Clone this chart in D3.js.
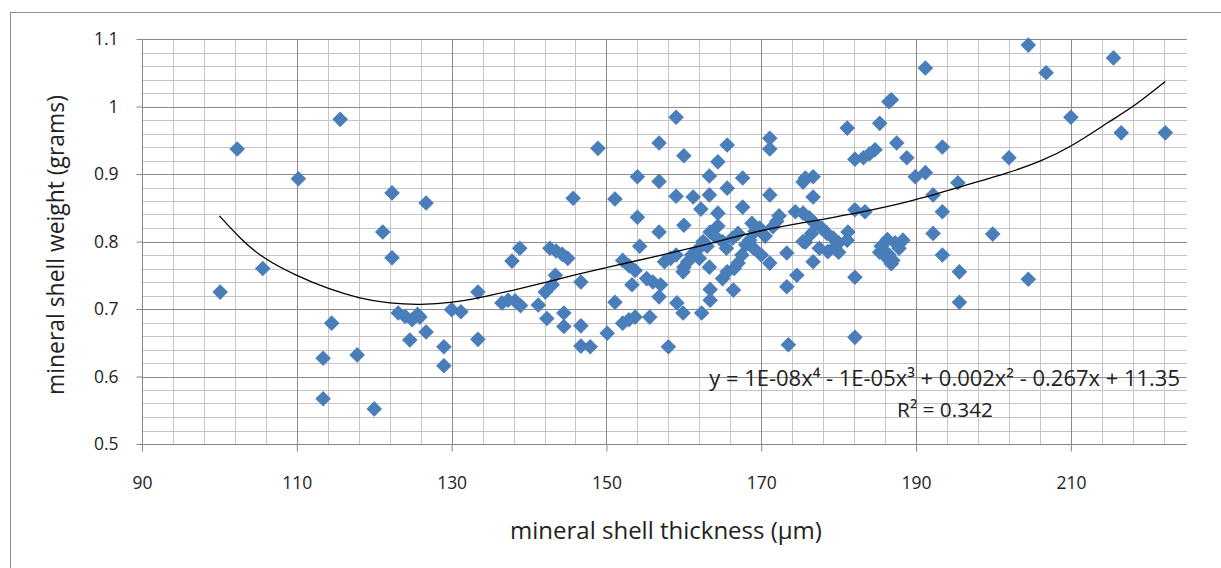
<!DOCTYPE html>
<html>
<head>
<meta charset="utf-8">
<script src="https://cdn.jsdelivr.net/npm/d3@7"></script>
<style>
  html, body { margin: 0; padding: 0; background: #fff; }
  svg { display: block; }
  text { font-family: "Open Sans", Lato, sans-serif; fill: #222; }
</style>
</head>
<body>
<svg id="chart" width="1221" height="568"></svg>
<script>
// ---- data ----
const thickness = [
  100.1,102.3,105.6,110.2,115.6,114.5,113.4,113.4,117.8,120.0,121.1,122.3,122.3,126.7,123.1,124.0,124.9,125.6,124.6,126.7,
  125.9,129.0,129.0,130.0,131.2,133.4,133.4,136.5,137.3,138.2,138.9,137.8,138.8,141.2,142.3,142.1,142.7,143.5,144.3,145.0,
  143.4,143.0,144.5,144.5,145.7,146.7,146.7,146.7,147.9,148.9,150.1,151.1,151.1,152.1,152.9,153.7,152.1,152.9,153.7,154.0,
  154.0,153.3,159.0,156.8,160.0,165.6,164.4,171.1,171.1,156.8,163.3,167.6,175.4,159.0,161.2,163.3,165.6,171.1,162.2,164.4,
  167.6,172.3,174.4,156.8,160.0,163.4,164.4,168.8,154.3,175.4,159.9,163.3,165.6,166.4,163.4,163.4,156.8,155.6,159.1,159.9,
  162.3,158.0,173.3,171.1,174.6,173.3,173.5,
  155.2,156.0,157.0,157.5,158.3,159.0,160.5,161.0,161.8,162.5,163.0,164.0,165.0,165.5,166.3,167.0,167.5,168.0,168.5,169.2,
  169.8,170.5,171.5,172.0,166.5,167.0,165.0,169.0,170.0,162.0,160.0,
  191.2,186.5,186.8,181.1,185.3,182.1,183.2,184.0,184.7,187.5,188.8,193.4,175.7,176.7,189.9,191.2,195.4,176.7,192.2,193.4,
  182.1,183.4,175.4,176.2,177.0,177.8,178.5,179.3,180.0,177.5,178.6,179.5,176.5,181.2,181.1,175.7,176.7,180.0,
  185.5,186.0,186.5,187.0,187.3,186.3,185.3,187.8,188.3,186.8,186.2,192.2,193.4,195.6,195.6,182.1,182.1,
  204.5,215.5,206.8,210.0,216.5,222.2,202.0,199.9,204.5
];
const weight = [
  0.725,0.937,0.760,0.893,0.981,0.679,0.627,0.567,0.632,0.552,0.814,0.872,0.776,0.857,0.694,0.689,0.684,0.692,0.654,0.666,
  0.688,0.644,0.616,0.699,0.696,0.725,0.655,0.709,0.713,0.712,0.705,0.771,0.790,0.706,0.686,0.725,0.790,0.786,0.781,0.775,
  0.750,0.736,0.694,0.674,0.864,0.740,0.675,0.645,0.644,0.938,0.664,0.863,0.710,0.679,0.684,0.688,0.772,0.764,0.757,0.896,
  0.836,0.736,0.984,0.946,0.927,0.943,0.918,0.953,0.937,0.889,0.897,0.894,0.888,0.867,0.866,0.869,0.879,0.869,0.848,0.842,
  0.851,0.838,0.844,0.814,0.824,0.814,0.823,0.827,0.793,0.800,0.755,0.762,0.755,0.728,0.729,0.713,0.718,0.688,0.709,0.694,
  0.694,0.644,0.783,0.768,0.750,0.733,0.647,
  0.745,0.740,0.736,0.770,0.775,0.780,0.770,0.780,0.788,0.800,0.793,0.808,0.800,0.790,0.805,0.812,0.780,0.795,0.802,0.815,
  0.820,0.808,0.822,0.830,0.760,0.768,0.745,0.790,0.780,0.775,0.762,
  1.057,1.007,1.010,0.968,0.975,0.922,0.924,0.930,0.936,0.946,0.924,0.940,0.894,0.896,0.896,0.902,0.887,0.866,0.869,0.844,
  0.847,0.844,0.842,0.835,0.826,0.820,0.812,0.805,0.798,0.790,0.785,0.792,0.812,0.814,0.802,0.799,0.770,0.784,
  0.793,0.785,0.780,0.772,0.798,0.803,0.784,0.790,0.802,0.767,0.776,0.812,0.780,0.755,0.710,0.747,0.658,
  1.091,1.072,1.050,0.984,0.961,0.961,0.924,0.811,0.744
];
// polynomial trendline
const trendX = [100,102.7,105.6,110,114,118,122,126,130,134.6,138.8,143,147.5,151.8,156,161.7,166,170.2,175,182.4,189.6,196,202,206,210,215,218.5,222.2];
const trendY = [0.838,0.804,0.775,0.749,0.730,0.716,0.708,0.706,0.709,0.719,0.730,0.742,0.755,0.766,0.777,0.792,0.805,0.817,0.827,0.842,0.860,0.882,0.902,0.918,0.940,0.978,1.003,1.037];

const xTicks = [90,110,130,150,170,190,210];
const yTicks = [0.5,0.6,0.7,0.8,0.9,1.0,1.1];
const yTickLabels = ["0.5","0.6","0.7","0.8","0.9","1","1.1"];
const xTitle = "mineral shell  thickness (\u00b5m)";
const yTitle = "mineral shell weight (grams)";
const equation = "y = 1E-08x\u2074 - 1E-05x\u00b3 + 0.002x\u00b2 - 0.267x + 11.35";
const rSquared = "R\u00b2 = 0.342";

// ---- layout ----
const svg = d3.select("#chart");
const L = 142, R = 1187, T = 39, B = 444;
const x = d3.scaleLinear().domain([90, 225]).range([L, R]);
const y = d3.scaleLinear().domain([0.5, 1.1]).range([B, T]);

// fit a text element's font size so that its length matches a target width
function fitWidth(sel, target) {
  const node = sel.node();
  const fs = parseFloat(sel.style("font-size"));
  const w = node.getComputedTextLength();
  let nfs = fs;
  if (w > 0) nfs = fs * target / w;
  sel.style("font-size", nfs.toFixed(2) + "px");
  return nfs;
}

// outer chart border
svg.append("rect").attr("x", 10.5).attr("y", 12.5).attr("width", 1230).attr("height", 580)
  .attr("fill", "none").attr("stroke", "#8c8c8c").attr("stroke-width", 1);

// minor grid
const xMinor = d3.range(90, 225.01, 4);
const yMinor = d3.range(0, 31).map(i => 0.5 + i * 0.02);
const g = svg.append("g");
g.selectAll("line.xm").data(xMinor).join("line")
  .attr("x1", d => Math.round(x(d)) + 0.5).attr("x2", d => Math.round(x(d)) + 0.5)
  .attr("y1", T).attr("y2", B).attr("stroke", "#c4c4c4").attr("stroke-width", 1);
g.selectAll("line.ym").data(yMinor).join("line")
  .attr("y1", d => Math.round(y(d)) + 0.5).attr("y2", d => Math.round(y(d)) + 0.5)
  .attr("x1", L).attr("x2", R).attr("stroke", "#c4c4c4").attr("stroke-width", 1);
// major grid
g.selectAll("line.xM").data(xTicks).join("line")
  .attr("x1", d => Math.round(x(d)) + 0.5).attr("x2", d => Math.round(x(d)) + 0.5)
  .attr("y1", T).attr("y2", B).attr("stroke", "#8a8a8a").attr("stroke-width", 1);
g.selectAll("line.yM").data(yTicks).join("line")
  .attr("y1", d => Math.round(y(d)) + 0.5).attr("y2", d => Math.round(y(d)) + 0.5)
  .attr("x1", L).attr("x2", R).attr("stroke", "#8a8a8a").attr("stroke-width", 1);

// axes
const xAxis = d3.axisBottom(x).tickValues(xTicks).tickSizeInner(7).tickSizeOuter(0).tickPadding(25).tickFormat(d3.format("d"));
const yAxis = d3.axisLeft(y).tickValues(yTicks).tickSizeInner(6).tickSizeOuter(0).tickPadding(18)
  .tickFormat((d, i) => yTickLabels[i]);
const gx = svg.append("g").attr("transform", `translate(0,${B + 0.5})`).call(xAxis);
const gy = svg.append("g").attr("transform", `translate(${L + 0.5},0)`).call(yAxis);
[gx, gy].forEach(a => {
  a.select(".domain").attr("stroke", "#868686");
  a.selectAll(".tick line").attr("stroke", "#868686");
  a.selectAll(".tick text").style("font-size", "20px").style("font-family", "'Open Sans', sans-serif").attr("fill", "#222");
});
// size tick labels so "110" is ~30px wide, as in the reference
const tickFs = fitWidth(gx.selectAll(".tick text").filter(d => d === 110), 30);
gx.selectAll(".tick text").style("font-size", tickFs.toFixed(2) + "px");
gy.selectAll(".tick text").style("font-size", tickFs.toFixed(2) + "px");
gx.select(".domain").attr("d", `M${L},0H${R}`);
gy.select(".domain").attr("d", `M0,${B}V${T}`);

// points
const pts = thickness.map((t, i) => [t, weight[i]]);
const sym = d3.symbol().type(d3.symbolSquare).size(122);
svg.append("g").selectAll("path").data(pts).join("path")
  .attr("d", sym)
  .attr("transform", d => `translate(${x(d[0])},${y(d[1])}) rotate(45)`)
  .attr("fill", "#4a7ebb");

// trendline
const trend = trendX.map((t, i) => [t, trendY[i]]);
svg.append("path").datum(trend)
  .attr("d", d3.line().x(d => x(d[0])).y(d => y(d[1])).curve(d3.curveBasis))
  .attr("fill", "none").attr("stroke", "#000").attr("stroke-width", 1.3);

// equation labels
fitWidth(svg.append("text").attr("x", 1180).attr("y", 386).attr("text-anchor", "end")
  .style("font-size", "20px").text(equation), 471);
fitWidth(svg.append("text").attr("x", 945).attr("y", 417).attr("text-anchor", "middle")
  .style("font-size", "20px").text(rSquared), 96);

// axis titles
fitWidth(svg.append("text").attr("x", 666).attr("y", 539).attr("text-anchor", "middle")
  .style("font-size", "20px").text(xTitle), 312);
fitWidth(svg.append("text").attr("transform", "translate(64,245) rotate(-90)").attr("text-anchor", "middle")
  .style("font-size", "20px").text(yTitle), 300);
</script>
</body>
</html>
